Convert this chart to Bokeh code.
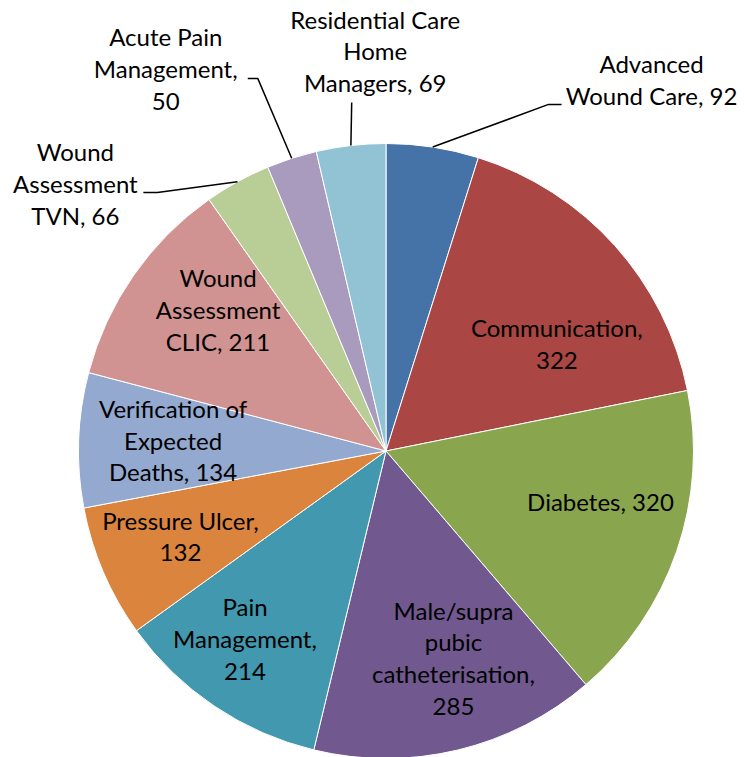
import math
from bokeh.plotting import figure
from bokeh.models import Range1d, ColumnDataSource
from bokeh.embed import file_html
from bokeh.resources import INLINE
from bokeh.core.properties import value

# ---- data ----
categories = ["Advanced Wound Care", "Communication", "Diabetes",
              "Male/supra pubic catheterisation", "Pain Management",
              "Pressure Ulcer", "Verification of Expected Deaths",
              "Wound Assessment CLIC", "Wound Assessment TVN",
              "Acute Pain Management", "Residential Care Home Managers"]
values = [92, 322, 320, 285, 214, 132, 134, 211, 66, 50, 69]
label_templates = ["Advanced\nWound Care, {v}", "Communication,\n{v}", "Diabetes, {v}",
                   "Male/supra\npubic\ncatheterisation,\n{v}", "Pain\nManagement,\n{v}",
                   "Pressure Ulcer,\n{v}", "Verification of\nExpected\nDeaths, {v}",
                   "Wound\nAssessment\nCLIC, {v}", "Wound\nAssessment\nTVN, {v}",
                   "Acute Pain\nManagement,\n{v}", "Residential Care\nHome\nManagers, {v}"]
colors = ["#4572A7", "#AA4643", "#89A54E", "#71588F", "#4198AF", "#DB843D",
          "#93A9CF", "#D19392", "#B9CD96", "#A99BBD", "#92C3D5"]

# ---- layout (styling) ----
W, H = 744, 757
CX, CY, R = 385.5, 306.5, 307.5
TEXT_DY = 2.0
label_da = [26.96, 10.26, -5.3, -4.44, 2.75, 0.26, 0.3, 4.9, -20.6, -12.2, 5.0]
label_r = [1.480, 0.653, 0.718, 0.713, 0.768, 0.726, 0.693, 0.710, 1.329, 1.430, 1.295]
# leader lines: index -> (elbow dx, dy, end dx, dy) relative to label centre, px (dy downwards)
leaders = {0: (-103, 23, -90, 23), 8: (82, 7, 68, 7), 9: (92, 8, 82, 8), 10: (-23.5, 49.5, -23.5, 49.5)}

total = float(sum(values))
starts, ends, mids = [], [], []
cum = 0.0
for v in values:
    a0 = cum / total * 360.0
    cum += v
    a1 = cum / total * 360.0
    starts.append(math.radians(90 - a0))
    ends.append(math.radians(90 - a1))
    mids.append((a0 + a1) / 2.0)

src = ColumnDataSource(dict(start=starts, end=ends, color=colors, cat=categories, val=values))

p = figure(width=W, height=H, output_backend="svg", toolbar_location=None,
           x_range=Range1d(0, W), y_range=Range1d(0, H), min_border=0)
p.axis.visible = False
p.grid.visible = False
p.outline_line_color = None
p.background_fill_color = "white"

p.wedge(x=CX, y=CY, radius=R, start_angle="start", end_angle="end", direction="clock",
        fill_color="color", line_color="white", line_width=1, source=src)

lx, ly, texts = [], [], []
for i, v in enumerate(values):
    th = math.radians(mids[i] + label_da[i])
    lx.append(CX + label_r[i] * R * math.sin(th))
    ly.append(CY + label_r[i] * R * math.cos(th))
    texts.append(label_templates[i].format(v=v))

xs, ys = [], []
for i, (ex, ey, fx, fy) in leaders.items():
    th = math.radians(mids[i])
    px0 = CX + R * math.sin(th)
    py0 = CY + R * math.cos(th)
    xs.append([px0, lx[i] + ex, lx[i] + fx])
    ys.append([py0, ly[i] - ey, ly[i] - fy])
p.multi_line(xs=xs, ys=ys, line_color="black", line_width=1.5)

p.text(x=lx, y=[y + TEXT_DY for y in ly], text=texts, text_align="center", text_baseline="middle",
       text_font=value("Lato"), text_font_size="24px", text_color="black",
       text_line_height=1.09)

open("out.html", "w").write(file_html(p, INLINE))
